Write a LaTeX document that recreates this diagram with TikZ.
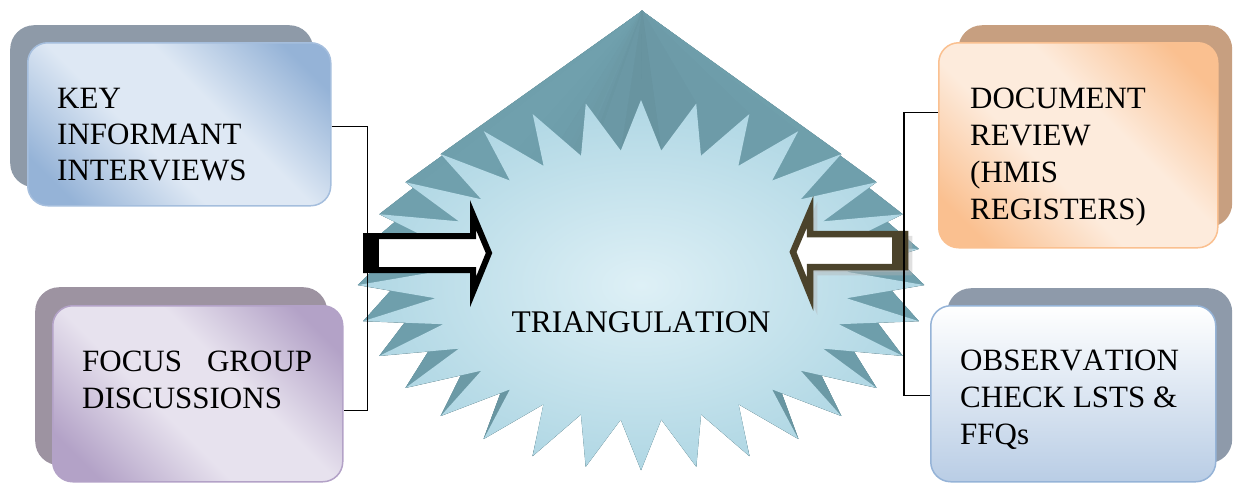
\documentclass[tikz,border=0pt]{standalone}
\usepackage{fontspec}
\setmainfont[Kerning=Off]{Liberation Serif}
\definecolor{kiiL}{RGB}{222,232,244}
\definecolor{kiiD}{RGB}{149,179,215}
\definecolor{kiiS}{RGB}{142,154,168}
\definecolor{fgdL}{RGB}{231,226,238}
\definecolor{fgdD}{RGB}{179,162,199}
\definecolor{fgdS}{RGB}{157,147,161}
\definecolor{docL}{RGB}{253,235,220}
\definecolor{docD}{RGB}{250,192,144}
\definecolor{docS}{RGB}{199,159,128}
\definecolor{obsD}{RGB}{185,205,229}
\definecolor{obsB}{RGB}{149,179,215}
\definecolor{obsS}{RGB}{142,154,170}
\definecolor{starL}{RGB}{222,240,246}
\definecolor{starD}{RGB}{176,215,228}
\definecolor{tealA}{RGB}{112,160,173}
\definecolor{tealB}{RGB}{86,123,133}
\definecolor{arrowbrown}{RGB}{75,67,43}
\pgfdeclareverticalshading{kiishade}{100bp}{color(0bp)=(kiiD); color(22bp)=(kiiD); color(42bp)=(kiiL); color(58bp)=(kiiL); color(78bp)=(kiiD); color(100bp)=(kiiD)}
\pgfdeclareverticalshading{fgdshade}{100bp}{color(0bp)=(fgdD); color(22bp)=(fgdD); color(42bp)=(fgdL); color(58bp)=(fgdL); color(78bp)=(fgdD); color(100bp)=(fgdD)}
\pgfdeclareverticalshading{docshade}{100bp}{color(0bp)=(docD); color(22bp)=(docD); color(42bp)=(docL); color(58bp)=(docL); color(78bp)=(docD); color(100bp)=(docD)}
\begin{document}
\begin{tikzpicture}[x=1pt,y=-1pt,
  shadowbox/.style={rounded corners=24pt, inner sep=0pt, anchor=north west},
  frontbox/.style={rounded corners=20pt, inner sep=0pt, anchor=north west, line width=1.5pt},
  txt/.style={inner sep=0pt, anchor=base west, text=black},
  conn/.style={draw=black, line width=1.4pt},
  starface/.style={line width=0.4pt, line join=round}]
\useasboundingbox (0,0) rectangle (1233,483);

% ---- star: extruded side faces converging to the apex
\foreach \pass in {0,1}{
 \foreach \k in {0,...,63}{
  \pgfmathsetmacro\ra{0.865+0.135*cos(180*\k)}
  \pgfmathsetmacro\rb{0.865+0.135*cos(180*(\k+1))}
  \pgfmathsetmacro\xa{641+283*\ra*cos(90+5.625*\k)}
  \pgfmathsetmacro\ya{285-185*\ra*sin(90+5.625*\k)}
  \pgfmathsetmacro\xb{641+283*\rb*cos(90+5.625*(\k+1))}
  \pgfmathsetmacro\yb{285-185*\rb*sin(90+5.625*(\k+1))}
  \pgfmathsetmacro\nx{\ya-\yb}
  \pgfmathsetmacro\ny{\xb-\xa}
  \pgfmathsetmacro\nl{veclen(\nx,\ny)}
  \pgfmathsetmacro\dotp{(\nx/\nl)*(642-(\xa+\xb)/2)/100+(\ny/\nl)*(11-(\ya+\yb)/2)/100}
  \pgfmathtruncatemacro\fr{\dotp>0?1:0}
  \pgfmathtruncatemacro\sh{50-50*\ny/\nl}
  \ifnum\fr=\pass
    \filldraw[starface, fill=tealA!\sh!tealB, draw=tealA!\sh!tealB] (\xa,\ya) -- (\xb,\yb) -- (642,11) -- cycle;
  \fi
 }
}
% ---- star front face
\shade[inner color=starL, outer color=starD]
  plot[variable=\k, samples at={0,...,63}]
  ({641+283*(0.865+0.135*cos(180*\k))*cos(90+5.625*\k)},
   {285-185*(0.865+0.135*cos(180*\k))*sin(90+5.625*\k)}) -- cycle;
\node[inner sep=0pt, font=\fontsize{31.5}{36}\selectfont] (tri) at (641,322.5) {TRIANGULATION};

% ---- block arrows
\filldraw[fill=white, draw=black, line width=6pt, line join=miter]
  (366,236) -- (473,236) -- (473,215) -- (489,253) -- (473,292) -- (473,270) -- (366,270) -- cycle;
\fill[black] (363,233) rectangle (379,273);

\filldraw[fill=black!30, draw=black!30, opacity=0.4, line width=6.5pt]
  (909,239) -- (814,239) -- (814,217) -- (796,257) -- (814,299) -- (814,272) -- (909,272) -- cycle;
\filldraw[fill=white, draw=arrowbrown, line width=6.5pt, line join=miter]
  (905,234) -- (810,234) -- (810,212) -- (793,252) -- (810,294) -- (810,267) -- (905,267) -- cycle;
\fill[arrowbrown] (892,231) rectangle (908,270);

% ---- boxes
\node[shadowbox, fill=kiiS, minimum width=303pt, minimum height=162pt] (kiish) at (10,25) {};
\node[frontbox, draw=kiiD!85!white, shading=kiishade, shading angle=-45,
      minimum width=303pt, minimum height=163pt] (kii) at (27,42) {};
\node[shadowbox, fill=fgdS, minimum width=292pt, minimum height=178pt] (fgdsh) at (35,287) {};
\node[frontbox, draw=fgdD, shading=fgdshade, shading angle=-45,
      minimum width=290pt, minimum height=176pt] (fgd) at (52,305) {};
\node[shadowbox, fill=docS, minimum width=274pt, minimum height=202pt] (docsh) at (958,25) {};
\node[frontbox, draw=docD, shading=docshade, shading angle=-45,
      minimum width=279pt, minimum height=205pt] (doc) at (938,42) {};
\node[shadowbox, fill=obsS, minimum width=285pt, minimum height=175pt] (obssh) at (947,288) {};
\node[frontbox, draw=obsB, top color=white, bottom color=obsD,
      minimum width=285pt, minimum height=176pt] (obs) at (930,305) {};

% ---- texts
\node[txt, font=\fontsize{31}{36}\selectfont] (kiit) at (57,108)
  {\parbox[t]{270pt}{\raggedright KEY\\INFORMANT\\INTERVIEWS}};
\node[txt, font=\fontsize{31}{37}\selectfont] (fgdt) at (82,371)
  {\parbox[t]{260pt}{\raggedright \makebox[230pt][s]{FOCUS GROUP}\\DISCUSSIONS}};
\node[txt, font=\fontsize{31}{37.3}\selectfont] (doct) at (970,108)
  {\parbox[t]{240pt}{\raggedright DOCUMENT\\REVIEW\\(HMIS\\REGISTERS)}};
\node[txt, font=\fontsize{31}{37}\selectfont] (obst) at (960,370)
  {\parbox[t]{250pt}{\raggedright OBSERVATION\\CHECK LSTS \&\\FFQs}};

% ---- connectors
\draw[conn] ([yshift=-2.5pt]kii.east) -- ++(36,0) |- ([yshift=-16.5pt]fgd.east);
\draw[conn] ([yshift=32.5pt]doc.west) -- ++(-34,0) |- ([yshift=-1.5pt]obs.west);
\end{tikzpicture}
\end{document}
